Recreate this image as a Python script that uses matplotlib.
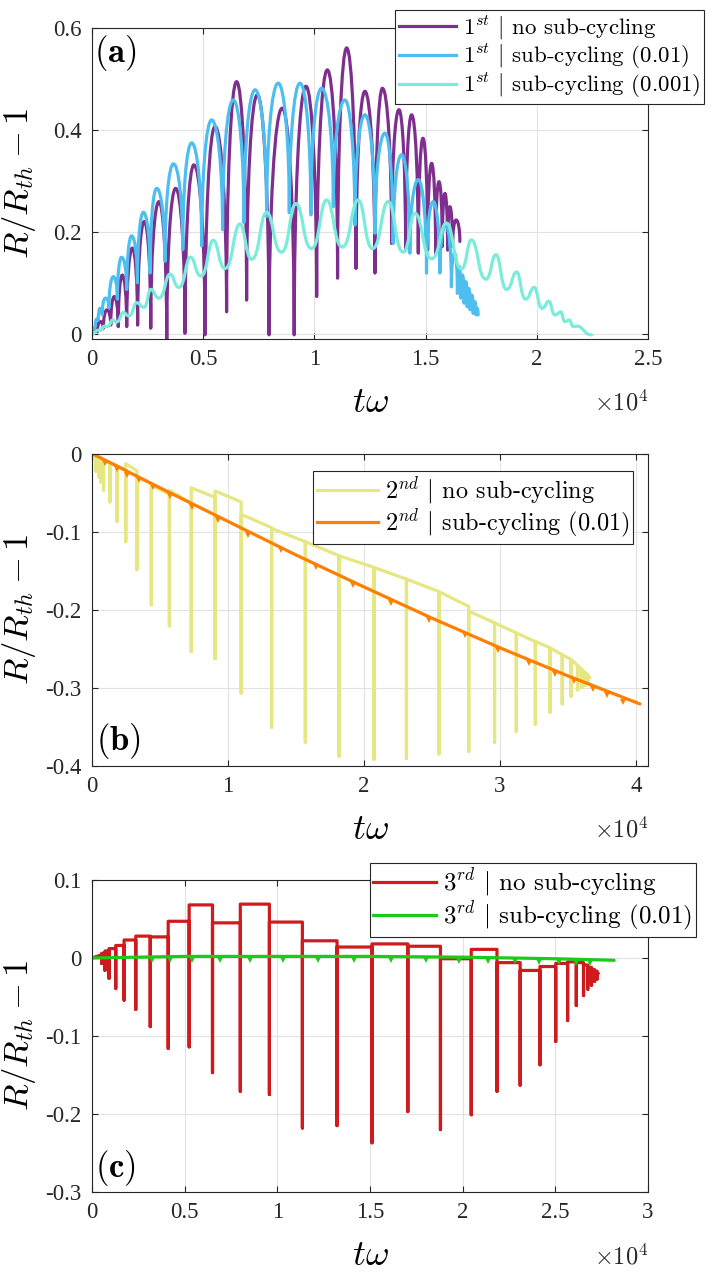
"""Bubble radius R/R_th - 1 vs t*omega for 1st/2nd/3rd order schemes, with and without sub-cycling."""
import matplotlib
matplotlib.use("Agg")
import matplotlib.pyplot as plt
from matplotlib.path import Path
from matplotlib.patches import PathPatch
from matplotlib.lines import Line2D

plt.rcParams["mathtext.fontset"] = "cm"
TICK_FONT = "Liberation Serif"
LEG_FONT = "cmr10"

# all times are in units of 1e4 (axis shows x10^4)

# ---- (a) 1st order, no sub-cycling: arches between dips
a1_dip_x = [0, 0.024, 0.051, 0.084, 0.118, 0.156, 0.205, 0.264, 0.336, 0.418, 0.508, 0.605, 0.695,
            0.796, 0.909, 1.010, 1.104, 1.187, 1.272, 1.347, 1.410, 1.467, 1.509, 1.545, 1.575,
            1.599, 1.621, 1.654]
a1_dip_y = [0, 0.005, 0.012, 0.018, 0.015, 0.015, 0.018, 0.012, -0.011, 0.002, -0.001, 0.044, 0.067,
            -0.001, -0.001, 0.074, 0.110, 0.129, 0.120, 0.178, 0.165, 0.159, 0.165, 0.159, 0.172,
            0.165, 0.172, 0.182]
a1_peak_x = [0.012, 0.037, 0.067, 0.100, 0.136, 0.181, 0.235, 0.301, 0.376, 0.458, 0.553, 0.650,
             0.743, 0.855, 0.962, 1.058, 1.145, 1.227, 1.306, 1.380, 1.437, 1.488, 1.527, 1.560,
             1.587, 1.609, 1.637]
a1_peak_y = [0.008, 0.025, 0.048, 0.074, 0.116, 0.169, 0.221, 0.260, 0.286, 0.332, 0.407, 0.495,
             0.469, 0.443, 0.486, 0.518, 0.561, 0.476, 0.482, 0.440, 0.430, 0.384, 0.335, 0.299,
             0.276, 0.250, 0.224]

# ---- (a) 1st order, sub-cycling (0.01)
a2_dip_x = [0, 0.015, 0.028, 0.046, 0.076, 0.114, 0.156, 0.204, 0.261, 0.328, 0.408, 0.493, 0.587,
            0.683, 0.785, 0.887, 0.984, 1.085, 1.182, 1.272, 1.354, 1.429, 1.504, 1.564, 1.616,
            1.643, 1.658, 1.673, 1.687, 1.700, 1.714, 1.727, 1.736]
a2_dip_y = [0, 0.018, 0.028, 0.038, 0.052, 0.069, 0.088, 0.101, 0.120, 0.143, 0.166, 0.173, 0.205,
            0.219, 0.231, 0.238, 0.234, 0.250, 0.214, 0.198, 0.178, 0.159, 0.120, 0.120, 0.093,
            0.080, 0.071, 0.061, 0.054, 0.048, 0.041, 0.038, 0.038]
a2_peak_x = [0.007, 0.021, 0.036, 0.060, 0.096, 0.133, 0.178, 0.231, 0.291, 0.366, 0.448, 0.538,
             0.635, 0.733, 0.837, 0.935, 1.032, 1.137, 1.227, 1.317, 1.392, 1.467, 1.534, 1.591,
             1.630, 1.651, 1.666, 1.681, 1.694, 1.708, 1.721, 1.732]
a2_peak_y = [0.012, 0.030, 0.051, 0.071, 0.113, 0.151, 0.193, 0.239, 0.286, 0.334, 0.375, 0.420,
             0.459, 0.479, 0.492, 0.492, 0.482, 0.459, 0.430, 0.394, 0.352, 0.303, 0.260, 0.214,
             0.159, 0.133, 0.116, 0.103, 0.090, 0.077, 0.064, 0.051]

# ---- (a) 1st order, sub-cycling (0.001): alternating trough / peak points
a3_x = [0, 0.025, 0.038, 0.055, 0.070, 0.092, 0.110, 0.141, 0.166, 0.201, 0.234, 0.264, 0.301,
        0.351, 0.391, 0.443, 0.490, 0.545, 0.598, 0.665, 0.718, 0.785, 0.852, 0.917, 0.987,
        1.055, 1.125, 1.197, 1.261, 1.332, 1.399, 1.452, 1.527, 1.594, 1.661, 1.706, 1.771,
        1.816, 1.864, 1.909, 1.949, 1.988, 2.024, 2.054, 2.081, 2.108, 2.126, 2.145, 2.166,
        2.181, 2.246]
a3_y = [0, 0.008, 0.008, 0.016, 0.015, 0.028, 0.024, 0.043, 0.036, 0.062, 0.053, 0.088, 0.071,
        0.118, 0.092, 0.151, 0.114, 0.184, 0.129, 0.216, 0.147, 0.239, 0.161, 0.256, 0.168,
        0.263, 0.171, 0.263, 0.168, 0.260, 0.161, 0.237, 0.148, 0.218, 0.128, 0.185, 0.108,
        0.156, 0.088, 0.122, 0.069, 0.092, 0.051, 0.065, 0.038, 0.044, 0.025, 0.028, 0.015,
        0.016, -0.001]

# ---- (b) 2nd order, no sub-cycling: sloping plateaus cut by spikes
b1_spike_x = [0.030, 0.048, 0.066, 0.085, 0.132, 0.183, 0.248, 0.330, 0.436, 0.569, 0.730, 0.905,
              1.097, 1.321, 1.569, 1.817, 2.074, 2.313, 2.552, 2.771, 2.961, 3.121, 3.261, 3.369,
              3.459, 3.524, 3.573, 3.603, 3.628, 3.648]
b1_spike_y = [-0.023, -0.030, -0.037, -0.047, -0.062, -0.087, -0.113, -0.149, -0.194, -0.221,
              -0.254, -0.263, -0.307, -0.351, -0.370, -0.388, -0.392, -0.391, -0.385, -0.382,
              -0.370, -0.356, -0.347, -0.332, -0.321, -0.311, -0.303, -0.300, -0.297, -0.294]
b1_plat_start = [-0.004, -0.006, -0.007, -0.008, -0.010, -0.012, -0.016, -0.013, -0.031, -0.041,
                 -0.047, -0.044, -0.048, -0.078, -0.096, -0.113, -0.131, -0.146, -0.161, -0.177,
                 -0.202, -0.217, -0.230, -0.241, -0.249, -0.258, -0.264, -0.272, -0.277, -0.281,
                 -0.284]
b1_plat_end = [-0.006, -0.007, -0.008, -0.010, -0.012, -0.015, -0.020, -0.022, -0.038, -0.052,
               -0.064, -0.056, -0.062, -0.095, -0.113, -0.131, -0.146, -0.161, -0.177, -0.196,
               -0.217, -0.230, -0.241, -0.249, -0.258, -0.264, -0.272, -0.277, -0.281, -0.284,
               -0.287]
b1_end_x = 3.661

# ---- (b) 2nd order, sub-cycling (0.01)
b2_x = [0, 0.5, 1.0, 1.5, 2.0, 2.5, 3.0, 3.5, 4.03]
b2_y = [0, -0.044, -0.087, -0.130, -0.171, -0.211, -0.249, -0.285, -0.321]
b2_notch_x = [0.096, 0.184, 0.257, 0.344, 0.446, 0.577, 0.738, 0.927, 1.146, 1.388, 1.651, 1.919,
              2.202, 2.479, 2.742, 2.984, 3.212, 3.407, 3.544, 3.684, 3.786, 3.903]
b2_notch_y = [-0.012, -0.020, -0.027, -0.034, -0.043, -0.055, -0.069, -0.085, -0.104, -0.124,
              -0.146, -0.168, -0.191, -0.213, -0.233, -0.252, -0.268, -0.282, -0.292, -0.302,
              -0.310, -0.318]

# ---- (c) 3rd order, no sub-cycling: flat plateaus cut by spikes
c1_spike_x = [0.052, 0.070, 0.092, 0.128, 0.173, 0.236, 0.314, 0.411, 0.524, 0.650, 0.800, 0.957,
              1.135, 1.322, 1.511, 1.704, 1.880, 2.046, 2.185, 2.310, 2.417, 2.502, 2.566, 2.613,
              2.652, 2.675, 2.695, 2.712, 2.725]
c1_spike_y = [-0.007, -0.016, -0.026, -0.039, -0.054, -0.066, -0.088, -0.116, -0.114, -0.147,
              -0.171, -0.175, -0.218, -0.215, -0.237, -0.197, -0.220, -0.201, -0.171, -0.163,
              -0.137, -0.107, -0.080, -0.061, -0.048, -0.040, -0.035, -0.030, -0.027]
c1_level = [0.004, 0.006, 0.009, 0.012, 0.016, 0.023, 0.028, 0.027, 0.047, 0.068, 0.045, 0.069,
            0.046, 0.022, 0.014, 0.018, 0.015, -0.001, 0.011, -0.006, -0.016, -0.011, -0.007,
            -0.005, -0.006, -0.009, -0.012, -0.015, -0.017, -0.019]
c1_end = (2.731, -0.020)

# ---- (c) 3rd order, sub-cycling (0.01)
c2_x = [0, 0.5, 1.0, 1.5, 2.0, 2.5, 2.817]
c2_y = [0, 0.002, 0.002, 0.002, 0.001, -0.001, -0.003]
c2_notch_x = [0.323, 0.421, 0.542, 0.690, 0.852, 1.030, 1.218, 1.414, 1.611, 1.800, 1.982, 2.138,
              2.282, 2.410, 2.517, 2.613, 2.688]
c2_notch_y = [-0.003, -0.003, -0.003, -0.003, -0.003, -0.003, -0.003, -0.003, -0.003, -0.003,
              -0.004, -0.004, -0.004, -0.005, -0.005, -0.006, -0.006]

C_PURPLE, C_BLUE, C_CYAN = "#7E2F8E", "#4DBEEE", "#7BEBDB"
C_YELLOW, C_ORANGE = "#E6E682", "#FF7F00"
C_RED, C_GREEN = "#CF1B1D", "#1BCB1B"
LW = 2.3
EDGE = "#262626"
TICK_SIZE = 16.5


def arch_path(dip_x, dip_y, peak_x, peak_y, k=0.55):
    # half-ellipse arches: vertical at the dips, flat at the peaks
    verts = [(dip_x[0], dip_y[0])]
    for i in range(len(peak_x)):
        x0, y0 = dip_x[i], dip_y[i]
        xp, yp = peak_x[i], peak_y[i]
        x1, y1 = dip_x[i + 1], dip_y[i + 1]
        verts += [(x0, y0 + k * (yp - y0)), (xp - k * (xp - x0), yp), (xp, yp),
                  (xp + k * (x1 - xp), yp), (x1, y1 + k * (yp - y1)), (x1, y1)]
    return Path(verts, [Path.MOVETO] + [Path.CURVE4] * (len(verts) - 1))


def wave_path(xs, ys, k_low=0.55, k_high=0.45):
    verts = [(xs[0], ys[0])]
    for i in range(len(xs) - 1):
        dx = xs[i + 1] - xs[i]
        k0, k1 = (k_low, k_high) if i % 2 == 0 else (k_high, k_low)
        verts += [(xs[i] + k0 * dx, ys[i]), (xs[i + 1] - k1 * dx, ys[i + 1]), (xs[i + 1], ys[i + 1])]
    return Path(verts, [Path.MOVETO] + [Path.CURVE4] * (len(verts) - 1))


def spike_trace(spike_x, spike_y, lvl_start, lvl_end, end_x):
    xs, ys = [0], [lvl_start[0]]
    for i, sx in enumerate(spike_x):
        xs += [sx, sx, sx]
        ys += [lvl_end[i], spike_y[i], lvl_start[i + 1]]
    xs.append(end_x)
    ys.append(lvl_end[-1])
    return xs, ys


def style(ax, xlim, ylim, xticks, xlabels, yticks, ylabels):
    ax.set_xlim(*xlim)
    ax.set_ylim(*ylim)
    ax.set_xticks(xticks)
    ax.set_xticklabels(xlabels, fontfamily=TICK_FONT, fontsize=TICK_SIZE, color=EDGE)
    ax.set_yticks(yticks)
    ax.set_yticklabels(ylabels, fontfamily=TICK_FONT, fontsize=TICK_SIZE, color=EDGE)
    ax.tick_params(direction="in", top=True, right=True, length=4, width=0.8, color=EDGE, pad=7.5)
    for s in ax.spines.values():
        s.set_color(EDGE)
        s.set_linewidth(0.8)
    ax.grid(True, color="#e2e2e2", lw=0.8)
    ax.set_axisbelow(True)
    ax.set_xlabel(r"$t\omega$", fontsize=26, va="center")
    ax.xaxis.set_label_coords(0.5, -0.203)
    ax.set_ylabel(r"$R/R_{th}-1$", fontsize=25, va="center")
    ax.yaxis.set_label_coords(-0.1313, 0.5)
    ax.text(1.0, -0.206, r"$\times10^{4}$", transform=ax.transAxes, ha="right",
            va="center", fontsize=17.5, color=EDGE)


def legend(ax, fig, colors, labels, anchor, size):
    handles = [Line2D([], [], color=c, lw=LW) for c in colors]
    leg = ax.legend(handles, labels, loc="upper right", bbox_to_anchor=anchor,
                    bbox_transform=fig.transFigure, borderaxespad=0, fancybox=False,
                    framealpha=1, edgecolor=EDGE, handlelength=2.5, handletextpad=0.3,
                    borderpad=0.15, labelspacing=0.0, prop={"family": LEG_FONT, "size": size})
    leg.get_frame().set_linewidth(0.8)


fig = plt.figure(figsize=(7.14, 12.74), dpi=100)
L, W = 0.1289, 0.7787
ax_a = fig.add_axes([L, 0.7339, W, 0.2441])
ax_b = fig.add_axes([L, 0.3991, W, 0.2449])
ax_c = fig.add_axes([L, 0.0644, W, 0.2449])

# (a)
for path, col in [(arch_path(a1_dip_x, a1_dip_y, a1_peak_x, a1_peak_y), C_PURPLE),
                  (arch_path(a2_dip_x, a2_dip_y, a2_peak_x, a2_peak_y), C_BLUE),
                  (wave_path(a3_x, a3_y), C_CYAN)]:
    ax_a.add_patch(PathPatch(path, fill=False, edgecolor=col, lw=LW, joinstyle="round",
                             capstyle="round"))
style(ax_a, (0, 2.5), (-0.0092, 0.6), [0, 0.5, 1, 1.5, 2, 2.5],
      ["0", "0.5", "1", "1.5", "2", "2.5"], [0, 0.2, 0.4, 0.6], ["0", "0.2", "0.4", "0.6"])
legend(ax_a, fig, [C_PURPLE, C_BLUE, C_CYAN],
       [r"$1^{st}$ $|$ no sub-cycling", r"$1^{st}$ $|$ sub-cycling (0.01)",
        r"$1^{st}$ $|$ sub-cycling (0.001)"], (0.986, 0.992), 16.5)
ax_a.text(0.003, 0.984, r"$(\mathbf{a})$", transform=ax_a.transAxes, ha="left", va="top",
          fontsize=25)

# (b)
bx, by = spike_trace(b1_spike_x, b1_spike_y, b1_plat_start, b1_plat_end, b1_end_x)
ax_b.plot(bx, by, color=C_YELLOW, lw=LW, solid_joinstyle="round")
ax_b.plot(b2_x, b2_y, color=C_ORANGE, lw=LW, solid_capstyle="round")
ax_b.plot(b2_notch_x, b2_notch_y, ls="none", marker="v", ms=4.5, mew=0, color=C_ORANGE)
style(ax_b, (0, 4.09), (-0.4, 0), [0, 1, 2, 3, 4], ["0", "1", "2", "3", "4"],
      [-0.4, -0.3, -0.2, -0.1, 0], ["-0.4", "-0.3", "-0.2", "-0.1", "0"])
legend(ax_b, fig, [C_YELLOW, C_ORANGE],
       [r"$2^{nd}$ $|$ no sub-cycling", r"$2^{nd}$ $|$ sub-cycling (0.01)"], (0.887, 0.6305),
       17.5)
ax_b.text(0.008, 0.016, r"$(\mathbf{b})$", transform=ax_b.transAxes, ha="left", va="bottom",
          fontsize=25)

# (c)
cx, cy = spike_trace(c1_spike_x, c1_spike_y, c1_level, c1_level, c1_end[0])
cx[0], cy[0] = 0, 0
cy[-1] = c1_end[1]
ax_c.plot(cx, cy, color=C_RED, lw=LW, solid_joinstyle="round")
ax_c.plot(c2_x, c2_y, color=C_GREEN, lw=LW, solid_capstyle="round")
ax_c.plot(c2_notch_x, c2_notch_y, ls="none", marker="v", ms=4.5, mew=0, color=C_GREEN)
style(ax_c, (0, 3), (-0.3, 0.1), [0, 0.5, 1, 1.5, 2, 2.5, 3],
      ["0", "0.5", "1", "1.5", "2", "2.5", "3"], [-0.3, -0.2, -0.1, 0, 0.1],
      ["-0.3", "-0.2", "-0.1", "0", "0.1"])
legend(ax_c, fig, [C_RED, C_GREEN],
       [r"$3^{rd}$ $|$ no sub-cycling", r"$3^{rd}$ $|$ sub-cycling (0.01)"], (0.975, 0.3228),
       18)
ax_c.text(0.005, 0.013, r"$(\mathbf{c})$", transform=ax_c.transAxes, ha="left", va="bottom",
          fontsize=25)

fig.savefig("out.png", dpi=100)
